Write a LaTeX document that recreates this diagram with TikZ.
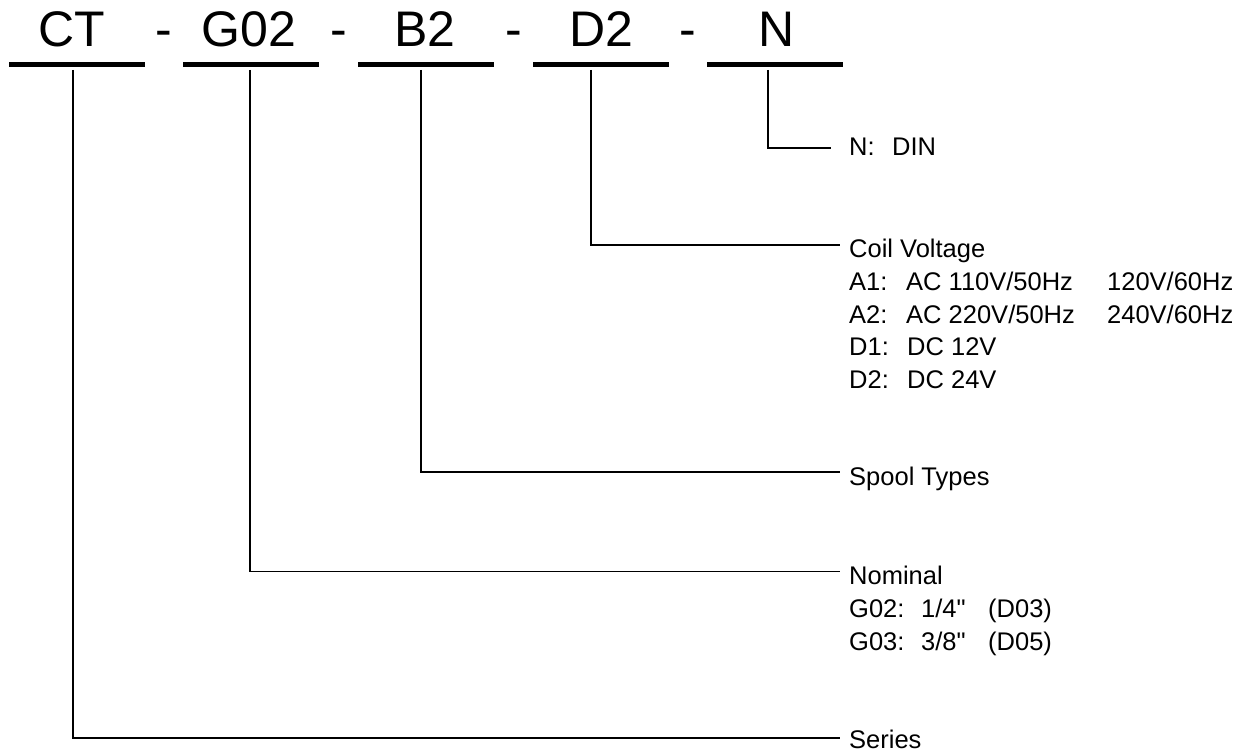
\documentclass[tikz,border=0pt]{standalone}
\usepackage{fontspec}
\setmainfont{Liberation Sans}[Ligatures=TeXOff]
\begin{document}
\begin{tikzpicture}[x=1pt,y=-1pt,
  codebar/.style={line width=5pt},
  leader/.style={line width=1.5pt},
  code/.style={font=\fontsize{50}{56}\selectfont, anchor=base, inner sep=0pt},
  lbl/.style={font=\fontsize{25.5}{30}\selectfont, anchor=base west, inner sep=0pt}]
\useasboundingbox (0,0) rectangle (1246,754);

% code letters
\node[code] (ct)  at (72,47)  {CT};
\node[code] (g02) at (249,47) {G02};
\node[code] (b2)  at (425,47) {B2};
\node[code] (d2)  at (601,47) {D2};
\node[code] (n)   at (777,47) {N};
\node[code] (s1) at (164,47) {-};
\node[code] (s2) at (339,47) {-};
\node[code] (s3) at (514,47) {-};
\node[code] (s4) at (688,47) {-};

% bars
\coordinate (ctL) at (9,64.5);   \coordinate (ctR) at (145,64.5);
\coordinate (gL) at (183,64.5);  \coordinate (gR) at (319,64.5);
\coordinate (bL) at (358,64.5);  \coordinate (bR) at (494,64.5);
\coordinate (dL) at (533,64.5);  \coordinate (dR) at (669,64.5);
\coordinate (nL) at (707,64.5);  \coordinate (nR) at (843,64.5);
\draw[codebar] (ctL) -- (ctR);
\draw[codebar] (gL) -- (gR);
\draw[codebar] (bL) -- (bR);
\draw[codebar] (dL) -- (dR);
\draw[codebar] (nL) -- (nR);

% leader start points
\coordinate (ctT) at (73,70);
\coordinate (gT)  at (250,70);
\coordinate (bT)  at (421,70);
\coordinate (dT)  at (591,70);
\coordinate (nT)  at (768,70);

% leader end points
\coordinate (nE)   at (831,148);
\coordinate (dE)   at (840,245);
\coordinate (bE)   at (840,472);
\coordinate (gE)   at (840,571.5);
\coordinate (ctE)  at (840,738);

\draw[leader] (nT) |- (nE);
\draw[leader] (dT) |- (dE);
\draw[leader] (bT) |- (bE);
\draw[leader] (gT) |- (gE);
\draw[leader] (ctT) |- (ctE);

% labels
\node[lbl] (din) at (849,156) {\makebox[43pt][l]{N:}DIN};

\node[lbl] (coil) at (849,257) {Coil Voltage};
\node[lbl] (a1) at (849,290) {\makebox[57pt][l]{A1:}\makebox[201pt][l]{AC 110V/50Hz}120V/60Hz};
\node[lbl] (a2) at (849,323) {\makebox[57pt][l]{A2:}\makebox[201pt][l]{AC 220V/50Hz}240V/60Hz};
\node[lbl] (d1) at (849,355.5) {\makebox[58pt][l]{D1:}DC 12V};
\node[lbl] (d2l) at (849,388) {\makebox[58pt][l]{D2:}DC 24V};

\node[lbl] (spool) at (849,485) {Spool Types};

\node[lbl] (nom) at (849,584) {Nominal};
\node[lbl] (g02l) at (849,617) {\makebox[72pt][l]{G02:}\makebox[67pt][l]{1/4"}(D03)};
\node[lbl] (g03l) at (849,650) {\makebox[72pt][l]{G03:}\makebox[67pt][l]{3/8"}(D05)};

\node[lbl] (series) at (849,748) {Series};
\end{tikzpicture}
\end{document}
